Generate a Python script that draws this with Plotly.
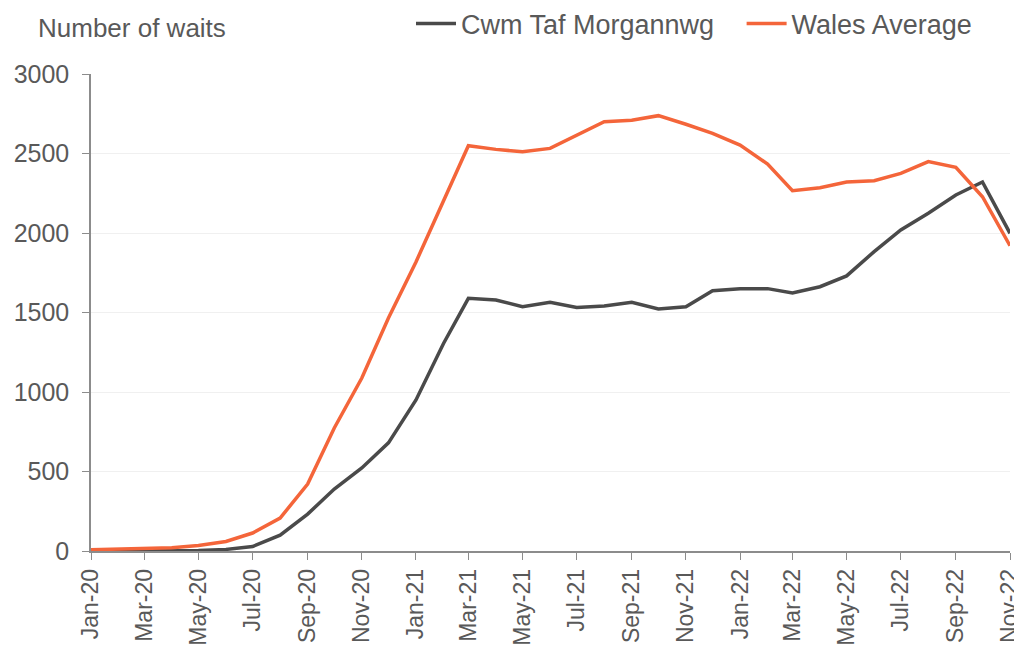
import pandas as pd
import plotly.graph_objects as go

months = pd.date_range("2020-01-01", "2022-11-01", freq="MS")

cwm_taf = [0, 0, 0, 0, 3, 10, 28, 100, 232, 390, 522, 680, 950, 1305,
           1589, 1579, 1536, 1564, 1532, 1541, 1564, 1522, 1536, 1637,
           1650, 1650, 1623, 1662, 1730, 1883, 2019, 2124, 2239, 2321, 1998]

wales_avg = [8, 11, 13, 20, 35, 60, 113, 207, 421, 774, 1088, 1465, 1818, 2208,
             2549, 2526, 2511, 2532, 2612, 2700, 2709, 2738, 2684, 2627,
             2553, 2434, 2266, 2285, 2321, 2329, 2375, 2449, 2413, 2228, 1920]

FONT = "Liberation Sans, Arial, sans-serif"
TEXT = "#595959"
AXIS = "#8c8c8c"

# the page body adds an 8px offset, so the figure is 8px smaller each way
W, H = 1014, 645

fig = go.Figure()
fig.add_trace(go.Scatter(x=months, y=cwm_taf, mode="lines", name="Cwm Taf Morgannwg   ",
                         line=dict(color="#4a4a4a", width=3.5)))
fig.add_trace(go.Scatter(x=months, y=wales_avg, mode="lines", name="Wales Average",
                         line=dict(color="#f4653a", width=3.5)))

fig.update_layout(
    width=W,
    height=H,
    margin=dict(l=83, r=12, t=66, b=102, autoexpand=False),
    plot_bgcolor="white",
    paper_bgcolor="white",
    font=dict(family=FONT, size=25, color=TEXT),
    showlegend=True,
    legend=dict(orientation="h", xref="container", yref="container",
                x=969 / W, xanchor="right", y=1 - 16 / H, yanchor="middle",
                font=dict(size=27, color=TEXT), itemwidth=40, tracegroupgap=0,
                bgcolor="rgba(0,0,0,0)"),
    xaxis=dict(
        type="date",
        range=[months[0], months[-1]],
        dtick="M2",
        tick0=months[0],
        tickformat="%b-%y",
        tickangle=-90,
        tickfont=dict(size=23, color=TEXT),
        ticklabeloverflow="allow",
        ticks="outside",
        ticklen=7,
        tickcolor=AXIS,
        showline=True,
        linecolor=AXIS,
        linewidth=1.5,
        showgrid=False,
        zeroline=False,
        automargin=False,
    ),
    yaxis=dict(
        range=[0, 3000],
        dtick=500,
        tickfont=dict(size=25, color=TEXT),
        ticks="outside",
        ticklen=7,
        ticklabelstandoff=8,
        tickcolor=AXIS,
        showline=True,
        linecolor=AXIS,
        linewidth=1.5,
        showgrid=True,
        gridcolor="#f0f0f0",
        zeroline=False,
        automargin=False,
    ),
    annotations=[dict(text="Number of waits", xref="paper", yref="paper",
                      x=-0.0598, y=1.0964, xanchor="left", yanchor="middle",
                      showarrow=False, font=dict(size=26, color=TEXT))],
)

fig.write_html("out.html")
